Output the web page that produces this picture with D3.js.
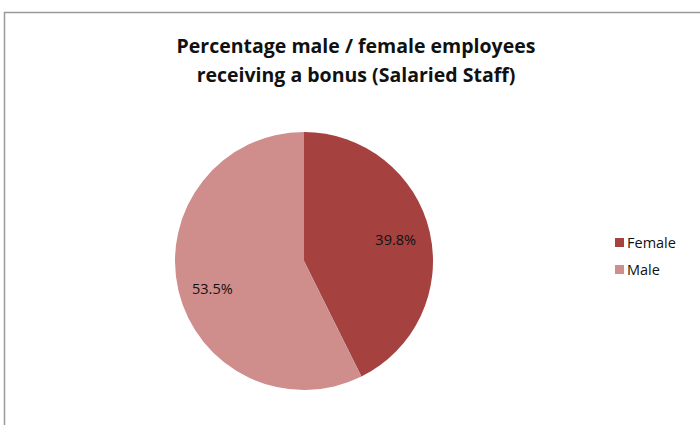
<!DOCTYPE html>
<html>
<head>
<meta charset="utf-8">
<script src="https://cdn.jsdelivr.net/npm/d3@7"></script>
<style>
  body { margin: 0; background: #fff; }
  svg { display: block; }
</style>
</head>
<body>
<svg id="chart" width="700" height="425"></svg>
<script>
// data
const categories = ['Female', 'Male'];
const values = [39.8, 53.5];
const colours = ['#A5413F', '#CF8D8C'];
const titleLines = ['Percentage male / female employees', 'receiving a bonus (Salaried Staff)'];

const svg = d3.select('#chart');

// chart frame
svg.append('rect')
  .attr('x', 4.5).attr('y', 12.5)
  .attr('width', 710).attr('height', 430)
  .attr('fill', '#fff')
  .attr('stroke', '#9a9a9a')
  .attr('stroke-width', 1.5);

// title
svg.append('g').selectAll('text')
  .data(titleLines)
  .join('text')
  .attr('x', 356)
  .attr('y', (d, i) => 53 + i * 29)
  .attr('text-anchor', 'middle')
  .attr('font-family', '"Open Sans", sans-serif')
  .attr('font-weight', 'bold')
  .attr('font-size', 19.5)
  .attr('fill', '#111')
  .text(d => d);

// pie
const cx = 304, cy = 261, r = 129;
const data = categories.map((c, i) => ({ name: c, value: values[i], colour: colours[i] }));
const pie = d3.pie().value(d => d.value).sort(null);
const arc = d3.arc().innerRadius(0).outerRadius(r);
const labelArc = d3.arc().innerRadius(r * 0.73).outerRadius(r * 0.73);

const g = svg.append('g').attr('transform', `translate(${cx},${cy})`);
const slices = pie(data);

g.selectAll('path')
  .data(slices)
  .join('path')
  .attr('d', arc)
  .attr('fill', d => d.data.colour);

// Excel nudges the second label a little lower
const labelNudge = [0, 6];
g.selectAll('text')
  .data(slices)
  .join('text')
  .attr('transform', (d, i) => {
    const [x, y] = labelArc.centroid(d);
    return `translate(${x},${y + labelNudge[i]})`;
  })
  .attr('text-anchor', 'middle')
  .attr('dy', '0.35em')
  .attr('font-family', '"Open Sans", sans-serif')
  .attr('font-size', 14.5)
  .attr('fill', '#111')
  .text(d => d.data.value.toFixed(1) + '%');

// legend
const legend = svg.append('g').attr('transform', 'translate(615,238)');
const items = legend.selectAll('g')
  .data(data)
  .join('g')
  .attr('transform', (d, i) => `translate(0,${i * 27})`);
items.append('rect')
  .attr('width', 9).attr('height', 9)
  .attr('fill', d => d.colour);
items.append('text')
  .attr('x', 12).attr('y', 5)
  .attr('dy', '0.35em')
  .attr('font-family', '"Open Sans", sans-serif')
  .attr('font-size', 14.5)
  .attr('fill', '#111')
  .text(d => d.name);
</script>
</body>
</html>
